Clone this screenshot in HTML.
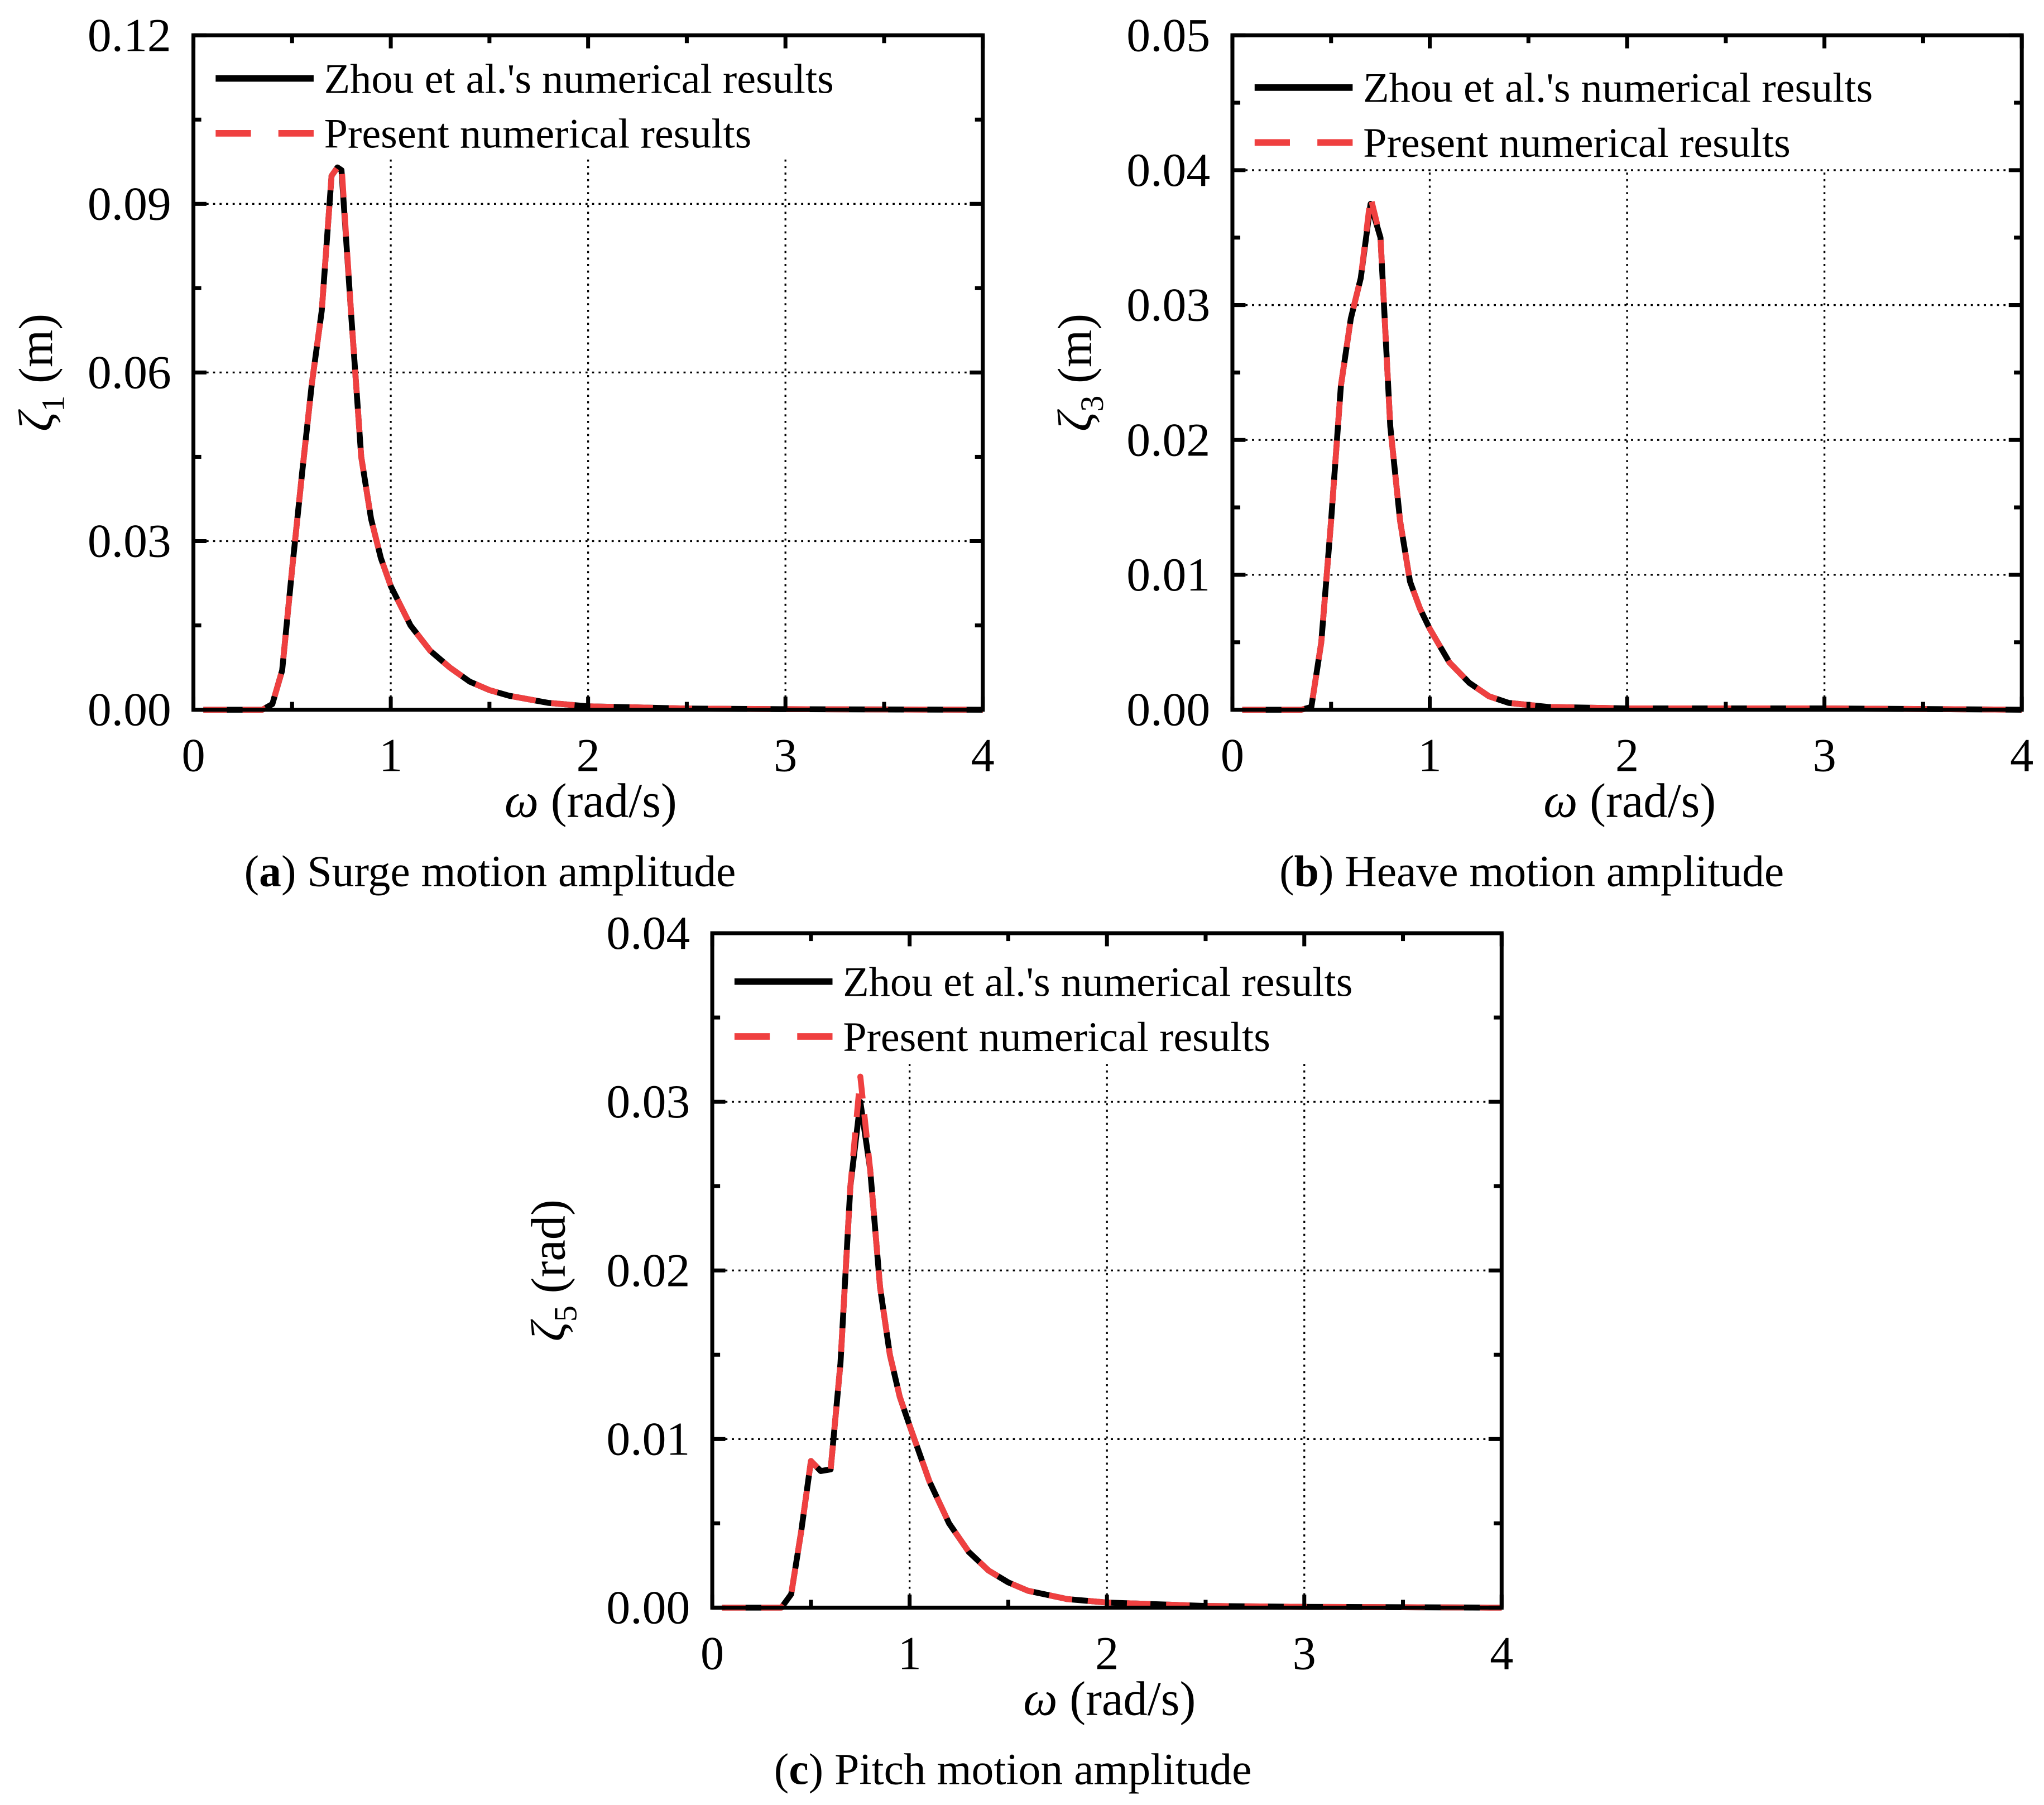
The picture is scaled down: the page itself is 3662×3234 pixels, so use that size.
<!DOCTYPE html>
<html><head><meta charset="utf-8">
<style>
html,body{margin:0;padding:0;background:#fff;}
svg{display:block;font-family:"Liberation Serif",serif;}
</style></head>
<body>
<svg id="fig" width="3662" height="3234" viewBox="0 0 1564 1381" preserveAspectRatio="none" xmlns="http://www.w3.org/2000/svg"></svg>
<script>
const xTicks = [0,1,2,3,4];
const surgeX = [0.05,0.35,0.4,0.45,0.5,0.55,0.6,0.65,0.7,0.73,0.75,0.8,0.85,0.9,0.95,1.0,1.1,1.2,1.3,1.4,1.5,1.6,1.8,2.0,2.5,3.0,4.0];
const surgeRef = [0,0,0.001,0.007,0.025,0.042,0.058,0.071,0.095,0.0965,0.096,0.07,0.045,0.034,0.027,0.022,0.015,0.0105,0.0075,0.005,0.0035,0.0025,0.0012,0.0006,0.0002,0.0001,0];
const surgePres = [0,0,0.001,0.007,0.025,0.042,0.058,0.071,0.095,0.0965,0.097,0.07,0.045,0.034,0.027,0.022,0.015,0.0105,0.0075,0.005,0.0035,0.0025,0.0012,0.0006,0.0002,0.0001,0];
const surgeYTicks = ["0.00","0.03","0.06","0.09","0.12"];
const heaveX = [0.05,0.35,0.4,0.45,0.5,0.55,0.6,0.65,0.7,0.75,0.8,0.85,0.9,0.95,1.0,1.1,1.2,1.3,1.4,1.6,2.0,3.0,4.0];
const heaveRef = [0,0,0.0002,0.005,0.014,0.024,0.029,0.032,0.0375,0.035,0.021,0.014,0.0095,0.0075,0.006,0.0035,0.002,0.001,0.0005,0.0002,0.0001,0.0001,0];
const heavePres = [0,0,0.0002,0.005,0.014,0.024,0.029,0.032,0.038,0.035,0.021,0.014,0.0095,0.0075,0.006,0.0035,0.002,0.001,0.0005,0.0002,0.0001,0.0001,0];
const heaveYTicks = ["0.00","0.01","0.02","0.03","0.04","0.05"];
const pitchX = [0.05,0.35,0.4,0.45,0.5,0.55,0.6,0.65,0.7,0.75,0.8,0.85,0.9,0.95,1.0,1.1,1.2,1.3,1.4,1.5,1.6,1.8,2.0,2.5,3.0,4.0];
const pitchRef = [0,0,0.0008,0.0045,0.0087,0.0081,0.0082,0.0145,0.025,0.030,0.026,0.019,0.015,0.0125,0.0108,0.0075,0.005,0.0033,0.0022,0.0015,0.001,0.0005,0.0003,0.0001,0.00005,0];
const pitchPres = [0,0,0.0008,0.0045,0.0087,0.0081,0.0082,0.0145,0.025,0.0315,0.026,0.019,0.015,0.0125,0.0108,0.0075,0.005,0.0033,0.0022,0.0015,0.001,0.0005,0.0003,0.0001,0.00005,0];
const pitchYTicks = ["0.00","0.01","0.02","0.03","0.04"];

const NS="http://www.w3.org/2000/svg";
const svg=document.getElementById('fig');
function mk(tag,attrs,parent,text){const e=document.createElementNS(NS,tag);for(const k in attrs)e.setAttribute(k,attrs[k]);if(text!==undefined)e.textContent=text;(parent||svg).appendChild(e);return e;}

function panel(o){
  const g=mk('g',{});
  
  
  const L=o.left,R=o.left+604,T=o.top,B=o.top+516;
  const ymax=parseFloat(o.yt[o.yt.length-1]);
  const sx=v=>L+(v/4)*(R-L), sy=v=>B-(v/ymax)*(B-T);
  for(let i=1;i<o.yt.length-1;i++){const gl=mk('line',{x1:L,x2:R,y1:sy(parseFloat(o.yt[i])),y2:sy(parseFloat(o.yt[i])),stroke:'#000','stroke-width':1.4,'stroke-dasharray':'1.6 3.4'},g);
    }
  for(let i=1;i<xTicks.length-1;i++){const gl=mk('line',{x1:sx(xTicks[i]),x2:sx(xTicks[i]),y1:T,y2:B,stroke:'#000','stroke-width':1.4,'stroke-dasharray':'1.6 3.4'},g);
    }
  const lb=mk('rect',{x:L+2,y:T+2,width:495,height:o.legH,fill:'#fff'},g);
  
  const pts=(ys)=>o.x.map((v,i)=>sx(v).toFixed(1)+','+sy(ys[i]).toFixed(1)).join(' ');
  const s1=mk('polyline',{points:pts(o.ref),fill:'none',stroke:'#000','stroke-width':4.5,'stroke-linejoin':'round'},g);
  
  const s2=mk('polyline',{points:pts(o.pres),fill:'none',stroke:'#ef4040','stroke-width':4.5,'stroke-dasharray':'18 12','stroke-linejoin':'round'},g);
  
  const fr=mk('rect',{x:L,y:T,width:R-L,height:B-T,fill:'none',stroke:'#000','stroke-width':3},g);
  
  for(let i=0;i<xTicks.length;i++){
    const x=sx(xTicks[i]);
    mk('line',{x1:x,x2:x,y1:B,y2:B-10,stroke:'#000','stroke-width':3},g);
    mk('line',{x1:x,x2:x,y1:T,y2:T+10,stroke:'#000','stroke-width':3},g);
    if(i<xTicks.length-1){const xm=sx(xTicks[i]+0.5);
      mk('line',{x1:xm,x2:xm,y1:B,y2:B-6,stroke:'#000','stroke-width':3},g);
      mk('line',{x1:xm,x2:xm,y1:T,y2:T+6,stroke:'#000','stroke-width':3},g);}
    const t=mk('text',{x:x,y:B+47,'font-size':36,'text-anchor':'middle'},g,String(xTicks[i]));
    
  }
  const step=parseFloat(o.yt[1]);
  for(let i=0;i<o.yt.length;i++){
    const v=parseFloat(o.yt[i]),y=sy(v);
    mk('line',{x1:L,x2:L+10,y1:y,y2:y,stroke:'#000','stroke-width':3},g);
    mk('line',{x1:R,x2:R-10,y1:y,y2:y,stroke:'#000','stroke-width':3},g);
    if(i<o.yt.length-1){const ym=sy(v+step/2);
      mk('line',{x1:L,x2:L+6,y1:ym,y2:ym,stroke:'#000','stroke-width':3},g);
      mk('line',{x1:R,x2:R-6,y1:ym,y2:ym,stroke:'#000','stroke-width':3},g);}
    const t=mk('text',{x:L-17,y:y+12,'font-size':36,'text-anchor':'end',textLength:64,lengthAdjust:'spacingAndGlyphs'},g,o.yt[i]);
    
  }
  const l1=mk('line',{x1:L+17,x2:L+92,y1:T+o.ly1,y2:T+o.ly1,stroke:'#000','stroke-width':5},g);
  
  const l2=mk('line',{x1:L+17,x2:L+92,y1:T+o.ly1+42,y2:T+o.ly1+42,stroke:'#ef4040','stroke-width':5,'stroke-dasharray':'27 21'},g);
  
  const t1=mk('text',{x:L+100,y:T+o.ly1+11,'font-size':32,textLength:390,lengthAdjust:'spacingAndGlyphs'},g,"Zhou et al.'s numerical results");
  
  const t2=mk('text',{x:L+100,y:T+o.ly1+53,'font-size':32,textLength:327,lengthAdjust:'spacingAndGlyphs'},g,"Present numerical results");
  
  const xt=mk('text',{x:(L+R)/2+2,y:B+82,'font-size':37,'text-anchor':'middle'},g);
  
  mk('tspan',{'font-style':'italic'},xt,'ω');mk('tspan',{},xt,' (rad/s)');
  const yx=L-o.ytOff, yc=(T+B)/2;
  const yt=mk('text',{x:yx,y:yc,'font-size':37,'text-anchor':'middle',transform:`rotate(-90 ${yx} ${yc})`},g);
  
  mk('tspan',{'font-style':'italic'},yt,'ζ');mk('tspan',{'font-size':25,dy:9},yt,o.sub);mk('tspan',{dy:-9},yt,' '+o.unit);
  const cp=mk('text',{x:o.capX,y:B+135,'font-size':34,'text-anchor':'middle'},g);
  
  mk('tspan',{},cp,'(');mk('tspan',{'font-weight':'bold'},cp,o.letter);mk('tspan',{},cp,') '+o.cap);
}
panel({name:'surge-panel',left:148,top:27,x:surgeX,ref:surgeRef,pres:surgePres,yt:surgeYTicks,legH:93,ly1:33,ytOff:108,sub:'1',unit:'(m)',capX:375,letter:'a',cap:'Surge motion amplitude'});
panel({name:'heave-panel',left:943,top:27,x:heaveX,ref:heaveRef,pres:heavePres,yt:heaveYTicks,legH:100,ly1:40,ytOff:108,sub:'3',unit:'(m)',capX:1172,letter:'b',cap:'Heave motion amplitude'});
panel({name:'pitch-panel',left:545,top:714,x:pitchX,ref:pitchRef,pres:pitchPres,yt:pitchYTicks,legH:97,ly1:37,ytOff:113,sub:'5',unit:'(rad)',capX:775,letter:'c',cap:'Pitch motion amplitude'});
</script>
</body></html>
